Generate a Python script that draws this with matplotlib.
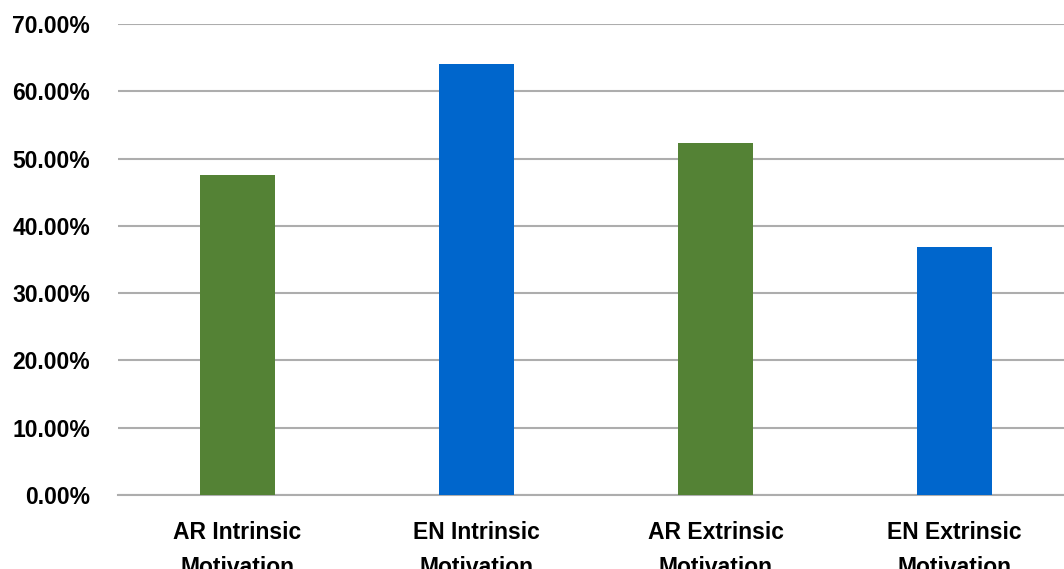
import matplotlib
matplotlib.use("Agg")
import matplotlib.pyplot as plt
from matplotlib.ticker import PercentFormatter

# values
categories = ["AR Intrinsic\nMotivation", "EN Intrinsic\nMotivation",
              "AR Extrinsic\nMotivation", "EN Extrinsic\nMotivation"]
values = [0.4755, 0.6405, 0.5230, 0.3685]
colours = ["#548235", "#0066CC", "#548235", "#0066CC"]
y_ticks = [0.0, 0.1, 0.2, 0.3, 0.4, 0.5, 0.6, 0.7]

plt.rcParams["font.family"] = ["Liberation Sans", "DejaVu Sans"]

fig = plt.figure(figsize=(10.64, 5.69), dpi=100)
# plot area runs slightly past the right edge of the image
ax = fig.add_axes([118 / 1064, 1 - 495 / 569, (1074 - 118) / 1064, (495 - 24) / 569])

x = range(len(categories))
ax.bar(x, values, width=0.315, color=colours, zorder=3)

ax.set_xlim(-0.5, len(categories) - 0.5)
ax.set_ylim(0, 0.7)
ax.set_yticks(y_ticks)
ax.yaxis.set_major_formatter(PercentFormatter(1.0, decimals=2))
ax.set_xticks(list(x))
ax.set_xticklabels(categories, linespacing=1.65)

ax.grid(axis="y", color="#ADADAD", linewidth=1.5, zorder=0)
for side in ["top", "right", "left"]:
    ax.spines[side].set_visible(False)
ax.spines["bottom"].set_color("#ADADAD")
ax.spines["bottom"].set_linewidth(1.5)
ax.tick_params(axis="both", length=0, labelsize=16.5, colors="black")
ax.tick_params(axis="y", pad=20)
ax.tick_params(axis="x", pad=19)
for lbl in ax.get_xticklabels() + ax.get_yticklabels():
    lbl.set_fontweight("bold")

fig.savefig("out.png", dpi=100)
